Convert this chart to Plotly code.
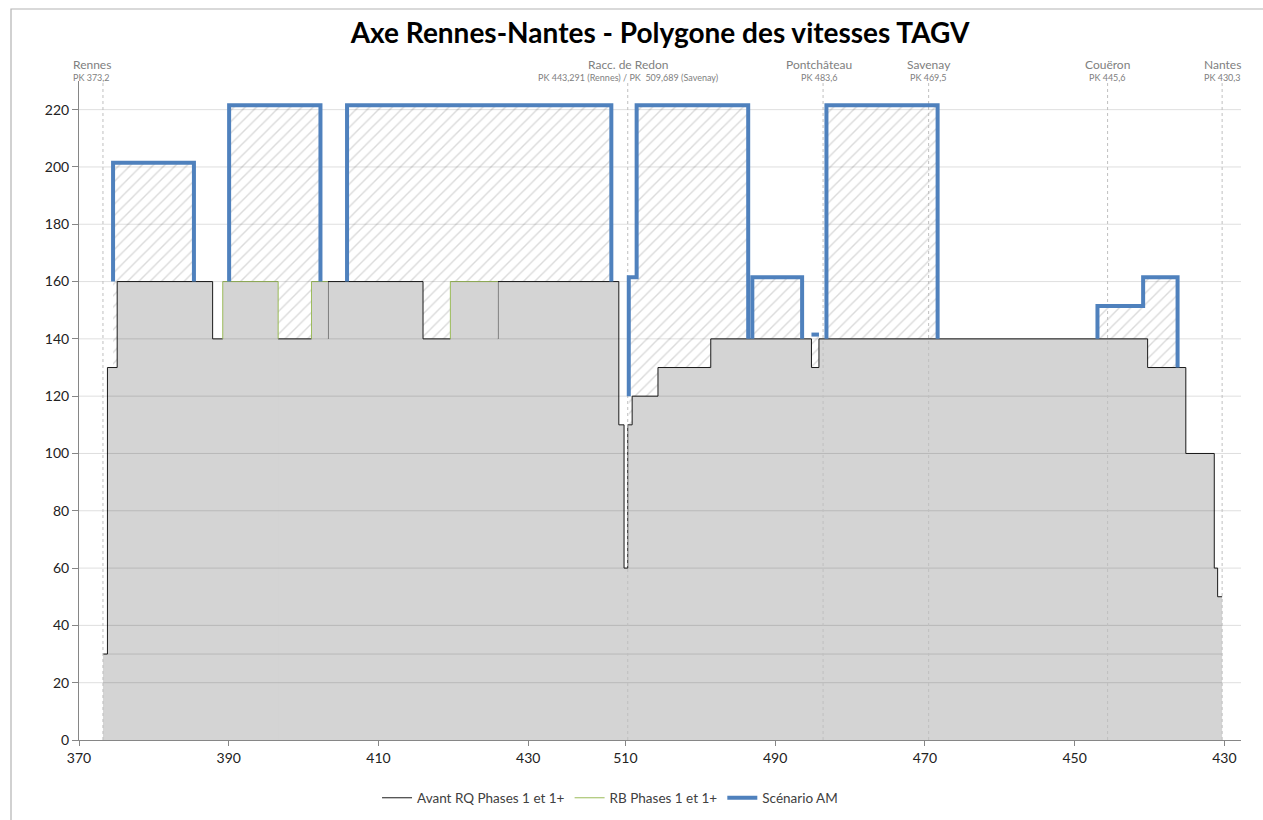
import plotly.graph_objects as go

# ---------------------------------------------------------------------------
# Repères kilométriques
# ---------------------------------------------------------------------------
PK_RENNES = 373.2
PK_RACC_RENNES = 443.291      # raccordement de Redon, côté ligne de Rennes
PK_RACC_SAVENAY = 509.689     # raccordement de Redon, côté ligne de Savenay
PK_NANTES = 430.3

# ---------------------------------------------------------------------------
# Avant RQ Phases 1 et 1+ : PK de début de chaque palier et vitesse (km/h)
# Section A : Rennes -> Racc. de Redon (PK croissants)
# Section B : Racc. de Redon -> Nantes (PK décroissants)
# ---------------------------------------------------------------------------
AVANT_A_PK = [373.2, 373.8, 375.1, 387.85, 403.25, 415.95, 425.95, 442.1, 442.8]
AVANT_A_V = [30, 130, 160, 140, 160, 140, 160, 110, 60]
AVANT_B_PK = [509.689, 509.1, 505.65, 498.6, 485.15, 484.15, 440.25, 435.15, 431.35, 430.9]
AVANT_B_V = [110, 120, 130, 140, 130, 140, 130, 100, 60, 50]

# RB Phases 1 et 1+ : tronçons relevés par rapport à l'état initial
RB_SECTION = ["A", "A", "A"]
RB_PK = [[389.2, 396.6], [401.05, 403.25], [419.6, 425.95]]
RB_V = [[160], [160], [160]]
RB_BASE = [[140, 140], [140, None], [140, None]]

# Scénario AM : tronçons relevés
AM_SECTION = ["A", "A", "A", "B", "B", "B", "B", "B"]
AM_PK = [[374.55, 385.35], [390.05, 402.25], [405.8, 441.1],
         [509.55, 508.5, 493.6], [493.05, 486.4], [485.15, 484.15],
         [483.15, 468.3], [446.95, 440.85, 436.25]]
AM_V = [[200], [220], [220], [160, 220], [160], [140], [220], [150, 160]]
AM_BASE = [[160, 160], [160, 160], [160, 160], [120, 140], [140, 140],
           [None, None], [140, 140], [140, 130]]

# Gares et points remarquables
GARES = ["Rennes", "Racc. de Redon", "Pontchâteau", "Savenay", "Couëron", "Nantes"]
GARES_SECTION = ["A", "A", "B", "B", "B", "B"]
GARES_PK = [373.2, 443.291, 483.6, 469.5, 445.6, 430.3]
GARES_LIBELLE_PK = ["PK 373,2", "PK 443,291 (Rennes) / PK  509,689 (Savenay)",
                    "PK 483,6", "PK 469,5", "PK 445,6", "PK 430,3"]

# Graduations
GRAD_A = [370, 390, 410, 430]
GRAD_B = [510, 490, 470, 450, 430]
Y_TICKS = list(range(0, 221, 20))

# ---------------------------------------------------------------------------
# Mise en forme
# ---------------------------------------------------------------------------
FONT = "Lato, 'Open Sans', sans-serif"
GRIS_FOND = "#d4d4d4"
BLEU = "#4f81bd"
VERT = "#9bbb59"
AM_DECALAGE = 1.5            # léger décalage pour que le trait bleu reste lisible
X_MIN, X_MAX = 370, 525.2
Y_MAX = 230
LABEL_SHIFT = {"Rennes": -11, "Pontchâteau": -4, "Racc. de Redon": 0}


def abscisse(pk, section):
    """Abscisse cumulée le long de l'axe Rennes -> Nantes."""
    if section == "A":
        return pk
    return PK_RACC_RENNES + (PK_RACC_SAVENAY - pk)


def troncon(pks, vitesses, base, section, decal=0.0):
    xs = [abscisse(p, section) for p in pks]
    x, y = [], []
    if base[0] is not None:
        x.append(xs[0]); y.append(base[0])
    for i, v in enumerate(vitesses):
        x += [xs[i], xs[i + 1]]
        y += [v + decal, v + decal]
    if base[1] is not None:
        x.append(xs[-1]); y.append(base[1])
    return x, y


fig = go.Figure()

# Hachures sous le scénario AM
am_x, am_y = [], []
for sec, pks, vs, base in zip(AM_SECTION, AM_PK, AM_V, AM_BASE):
    x, y = troncon(pks, vs, base, sec, AM_DECALAGE)
    fig.add_trace(go.Scatter(
        x=x, y=y, mode="lines", line=dict(width=0), fill="tozeroy",
        fillpattern=dict(shape="/", fgcolor="#b5b5b5", bgcolor="white",
                         size=8, solidity=0.17),
        showlegend=False, hoverinfo="skip"))
    am_x += x + [None]
    am_y += y + [None]

# Profil avant RQ
av_x = ([abscisse(p, "A") for p in AVANT_A_PK] + [abscisse(p, "B") for p in AVANT_B_PK]
        + [abscisse(PK_NANTES, "B")])
av_y = AVANT_A_V + AVANT_B_V + [AVANT_B_V[-1]]
fig.add_trace(go.Scatter(x=av_x, y=av_y, mode="lines", line=dict(width=0, shape="hv"),
                         fill="tozeroy", fillcolor=GRIS_FOND, showlegend=False,
                         hoverinfo="skip"))
fig.add_trace(go.Scatter(x=av_x, y=av_y, mode="lines", name="Avant RQ Phases 1 et 1+",
                         line=dict(color="#1a1a1a", width=1, shape="hv")))

# Tronçons RB
rb_x, rb_y = [], []
for sec, pks, vs, base in zip(RB_SECTION, RB_PK, RB_V, RB_BASE):
    x, y = troncon(pks, vs, base, sec)
    fig.add_trace(go.Scatter(x=x, y=y, mode="lines", line=dict(width=0),
                             fill="tozeroy", fillcolor=GRIS_FOND,
                             showlegend=False, hoverinfo="skip"))
    rb_x += x + [None]
    rb_y += y + [None]
fig.add_trace(go.Scatter(x=rb_x, y=rb_y, mode="lines", name="RB Phases 1 et 1+",
                         line=dict(color=VERT, width=1)))

# Quadrillage horizontal (au-dessus des aplats)
gx, gy = [], []
for v in Y_TICKS[1:]:
    gx += [X_MIN, X_MAX, None]
    gy += [v, v, None]
gx += [abscisse(PK_RENNES, "A"), abscisse(PK_NANTES, "B"), None]
gy += [AVANT_A_V[0], AVANT_A_V[0], None]
fig.add_trace(go.Scatter(x=gx, y=gy, mode="lines", line=dict(color="rgba(0,0,0,0.13)", width=1),
                         showlegend=False, hoverinfo="skip"))

# Repères des gares
sx, sy = [], []
for sec, pk in zip(GARES_SECTION, GARES_PK):
    xa = abscisse(pk, sec)
    sx += [xa, xa, None]
    sy += [0, Y_MAX, None]
fig.add_trace(go.Scatter(x=sx, y=sy, mode="lines",
                         line=dict(color="#bfbfbf", width=1, dash="3px,3px"),
                         showlegend=False, hoverinfo="skip"))

# Scénario AM
fig.add_trace(go.Scatter(x=am_x, y=am_y, mode="lines", name="Scénario AM",
                         line=dict(color=BLEU, width=4), connectgaps=False))

# Libellés des gares
for nom, sec, pk, lib in zip(GARES, GARES_SECTION, GARES_PK, GARES_LIBELLE_PK):
    xa = abscisse(pk, sec)
    dx = LABEL_SHIFT.get(nom, 0)
    fig.add_annotation(x=xa, xref="x", y=1 + 17 / 659, yref="paper", text=nom,
                       showarrow=False, xshift=dx, yanchor="middle",
                       font=dict(family=FONT, size=12, color="#808080"))
    fig.add_annotation(x=xa, xref="x", y=1 + 3.5 / 659, yref="paper", text=lib,
                       showarrow=False, xshift=dx, yanchor="middle",
                       font=dict(family=FONT, size=9, color="#808080"))

# Cadre du graphique
fig.add_shape(type="rect", xref="paper", yref="paper",
              x0=(11 - 79) / 1162, x1=1.2, y0=-0.3, y1=1 + 72 / 659,
              line=dict(color="#b3b3b3", width=1.2), layer="below")

tickvals = [abscisse(v, "A") for v in GRAD_A] + [abscisse(v, "B") for v in GRAD_B]
ticktext = [str(v) for v in GRAD_A + GRAD_B]

fig.update_layout(
    width=1263, height=820,
    margin=dict(l=79, r=22, t=81, b=80, autoexpand=False),
    paper_bgcolor="white", plot_bgcolor="white",
    font=dict(family=FONT, color="#222222"),
    title=dict(text="<b>Axe Rennes-Nantes - Polygone des vitesses TAGV</b>",
               x=0.5, xref="paper", xanchor="center", y=1 - 33 / 820, yanchor="middle",
               font=dict(family=FONT, size=28, color="#000000")),
    showlegend=True,
    legend=dict(orientation="h", x=0.457, xanchor="center", xref="paper",
                y=-58 / 659, yanchor="middle",
                font=dict(family=FONT, size=13.5, color="#404040"),
                bgcolor="rgba(0,0,0,0)"),
    xaxis=dict(range=[X_MIN, X_MAX], tickvals=tickvals, ticktext=ticktext,
               showgrid=False, zeroline=False, showline=True, linecolor="#868686",
               ticks="outside", ticklen=5, tickcolor="#868686",
               tickfont=dict(family=FONT, size=14, color="#222222")),
    yaxis=dict(range=[0, Y_MAX], tickvals=Y_TICKS, showgrid=False, zeroline=False,
               showline=True, linecolor="#868686", ticks="outside", ticklen=6,
               tickcolor="#868686", tickfont=dict(family=FONT, size=14, color="#222222")),
)

fig.write_html("out.html")
